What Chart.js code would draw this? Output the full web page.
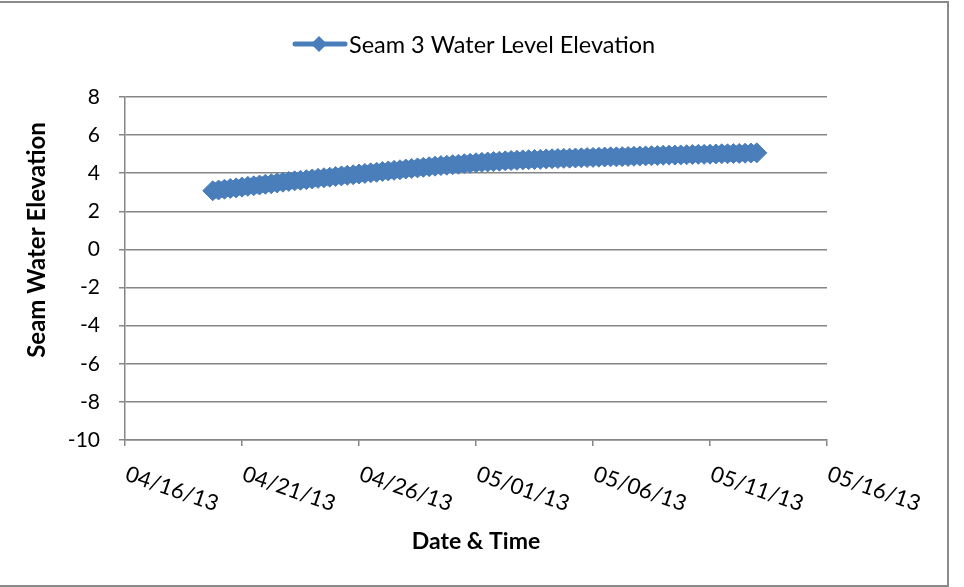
<!DOCTYPE html>
<html><head><meta charset="utf-8">
<script src="https://cdn.jsdelivr.net/npm/chart.js@4/dist/chart.umd.min.js"></script>
<style>html,body{margin:0;padding:0;background:#fff}#wrap{width:964px;height:587px;position:relative}</style>
</head><body><div id="wrap"><canvas id="c" width="964" height="587"></canvas></div>
<script>
// ---- data ----
const seriesName = 'Seam 3 Water Level Elevation';
const startTime = '2013-04-19T18:00:00Z';   // first reading
const stepHours = 6;                          // logger interval used
const waterLevel = [
  3.08,
  3.12, 3.16, 3.20, 3.23,
  3.27, 3.31, 3.34, 3.38,
  3.42, 3.45, 3.49, 3.53,
  3.57, 3.60, 3.63, 3.66,
  3.70, 3.73, 3.76, 3.79,
  3.83, 3.86, 3.89, 3.92,
  3.96, 3.99, 4.02, 4.05,
  4.09, 4.12, 4.15, 4.18,
  4.22, 4.25, 4.28, 4.31,
  4.34, 4.37, 4.40, 4.42,
  4.45, 4.47, 4.50, 4.52,
  4.55, 4.57, 4.59, 4.61,
  4.63, 4.65, 4.67, 4.68,
  4.70, 4.71, 4.72, 4.73,
  4.75, 4.76, 4.77, 4.78,
  4.79, 4.80, 4.81, 4.82,
  4.83, 4.84, 4.85, 4.86,
  4.86, 4.87, 4.88, 4.89,
  4.90, 4.91, 4.92, 4.93,
  4.94, 4.95, 4.95, 4.96,
  4.97, 4.98, 4.99, 4.99,
  5.00, 5.01, 5.02, 5.02,
  5.03, 5.04, 5.05, 5.06,
  5.07
];
const xTickDates = ['2013-04-16','2013-04-21','2013-04-26','2013-05-01','2013-05-06','2013-05-11','2013-05-16'];
const yTickValues = [-10, -8, -6, -4, -2, 0, 2, 4, 6, 8];
const xTitle = 'Date & Time';
const yTitle = 'Seam Water Elevation';

// ---- build ----
const t0 = Date.parse(startTime);
const points = waterLevel.map((v, i) => ({ x: t0 + i * stepHours * 3600000, y: v }));
const xMin = Date.parse(xTickDates[0] + 'T00:00:00Z');
const xMax = Date.parse(xTickDates[xTickDates.length - 1] + 'T00:00:00Z');
const blue = '#4a7ebb';
const gridGray = '#868686';
const FONT = 'Lato, "Open Sans", sans-serif';

function fmtDate(ms) {
  const d = new Date(ms);
  const p = n => String(n).padStart(2, '0');
  return p(d.getUTCMonth() + 1) + '/' + p(d.getUTCDate()) + '/' + p(d.getUTCFullYear() % 100);
}

const decor = {
  id: 'decor',
  afterDraw(chart) {
    const ctx = chart.ctx;
    const xs = chart.scales.x;
    ctx.save();
    // rotated x tick labels (Excel style, descending to the right)
    ctx.font = '22px ' + FONT;
    ctx.fillStyle = '#000';
    ctx.textAlign = 'left';
    ctx.textBaseline = 'alphabetic';
    xs.ticks.forEach(t => {
      const px = xs.getPixelForValue(t.value);
      ctx.save();
      ctx.translate(px - 1, 480);
      ctx.rotate(19 * Math.PI / 180);
      ctx.fillText(t.label, 0, 0);
      ctx.restore();
    });
    // y axis title
    ctx.save();
    ctx.font = 'bold 24px ' + FONT;
    ctx.textAlign = 'center';
    ctx.textBaseline = 'middle';
    ctx.translate(37, 240);
    ctx.rotate(-Math.PI / 2);
    ctx.fillText(yTitle, 0, 0);
    ctx.restore();
    // legend
    const ds = chart.data.datasets[0];
    ctx.strokeStyle = ds.borderColor;
    ctx.lineWidth = 5;
    ctx.lineCap = 'round';
    ctx.beginPath(); ctx.moveTo(295, 44); ctx.lineTo(345, 44); ctx.stroke();
    ctx.fillStyle = ds.pointBackgroundColor;
    ctx.beginPath();
    ctx.moveTo(319 - 8, 44); ctx.lineTo(319, 44 - 8); ctx.lineTo(319 + 8, 44); ctx.lineTo(319, 44 + 8);
    ctx.closePath(); ctx.fill();
    ctx.fillStyle = '#000';
    ctx.font = '23.5px ' + FONT;
    ctx.textAlign = 'left';
    ctx.textBaseline = 'middle';
    ctx.fillText(ds.label, 349, 45);
    // outer frame
    ctx.strokeStyle = '#8a8a8a';
    ctx.lineWidth = 2;
    ctx.lineCap = 'butt';
    ctx.beginPath();
    ctx.moveTo(0, 2); ctx.lineTo(948, 2); ctx.lineTo(948, 586); ctx.lineTo(0, 586);
    ctx.stroke();
    ctx.restore();
  }
};

new Chart(document.getElementById('c'), {
  type: 'line',
  data: {
    datasets: [{
      label: seriesName,
      data: points,
      borderColor: blue,
      backgroundColor: blue,
      pointBackgroundColor: blue,
      pointBorderColor: blue,
      borderWidth: 16,
      borderJoinStyle: 'round',
      pointStyle: 'rectRot',
      pointRadius: 10,
      pointBorderWidth: 1,
      tension: 0
    }]
  },
  options: {
    responsive: false,
    animation: false,
    devicePixelRatio: 1,
    layout: { padding: { left: 0, right: 137, top: 97, bottom: 0 } },
    plugins: { legend: { display: false }, tooltip: { enabled: false } },
    scales: {
      x: {
        type: 'linear',
        min: xMin,
        max: xMax,
        afterBuildTicks: s => { s.ticks = xTickDates.map(d => ({ value: Date.parse(d + 'T00:00:00Z') })); },
        afterFit: s => { s.height = 147; },
        ticks: { callback: v => fmtDate(v), color: 'rgba(0,0,0,0)', autoSkip: false, maxRotation: 0, minRotation: 0, font: { family: FONT, size: 19 } },
        grid: { drawOnChartArea: false, drawTicks: true, tickLength: 6, color: gridGray, lineWidth: 1.5 },
        border: { color: gridGray, width: 1.5 },
        title: { display: true, text: xTitle, color: '#000', font: { family: FONT, size: 23, weight: 'bold' }, padding: { top: 0, bottom: 32 } }
      },
      y: {
        min: -10,
        max: 8,
        afterBuildTicks: s => { s.ticks = yTickValues.map(v => ({ value: v })); },
        afterFit: s => { s.width = 125; },
        ticks: { color: '#000', padding: 19, font: { family: FONT, size: 21 } },
        grid: { color: gridGray, lineWidth: 1.5, tickLength: 6, drawTicks: true },
        border: { color: gridGray, width: 1.5 }
      }
    }
  },
  plugins: [decor]
});
</script></body></html>
